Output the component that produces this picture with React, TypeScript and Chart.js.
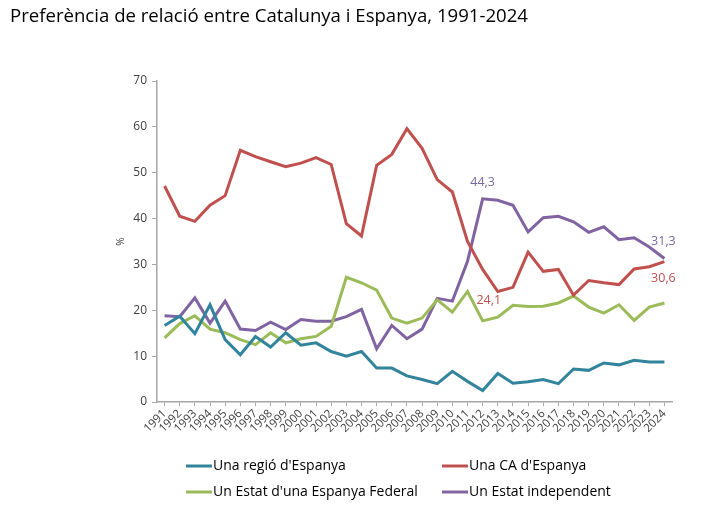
import React, { useEffect, useRef } from "react";
import { Chart, registerables } from "chart.js";

Chart.register(...registerables);

const TITLE = "Preferència de relació entre Catalunya i Espanya, 1991-2024";

const years = [
  "1991", "1992", "1993", "1994", "1995", "1996", "1997", "1998", "1999", "2000",
  "2001", "2002", "2003", "2004", "2005", "2006", "2007", "2008", "2009", "2010",
  "2011", "2012", "2013", "2014", "2015", "2016", "2017", "2018", "2019", "2020",
  "2021", "2022", "2023", "2024",
];

const regio = [
  16.7, 18.7, 14.9, 21.2, 13.6, 10.3, 14.3, 12.0, 15.1, 12.4,
  12.9, 11.0, 10.0, 11.0, 7.4, 7.4, 5.7, 4.9, 4.0, 6.7,
  4.5, 2.5, 6.2, 4.1, 4.4, 4.9, 4.0, 7.2, 6.9, 8.5,
  8.1, 9.1, 8.7, 8.7,
];

const comunitat = [
  47.1, 40.5, 39.4, 42.9, 45.0, 54.9, 53.5, 52.4, 51.3, 52.1,
  53.3, 51.8, 38.9, 36.2, 51.6, 54.0, 59.6, 55.3, 48.5, 45.8,
  35.0, 28.9, 24.1, 25.0, 32.7, 28.5, 28.9, 23.3, 26.5, 26.0,
  25.6, 29.0, 29.5, 30.6,
];

const federal = [
  14.0, 17.1, 18.8, 15.9, 15.1, 13.6, 12.5, 15.1, 12.9, 13.8,
  14.3, 16.5, 27.2, 26.0, 24.4, 18.3, 17.2, 18.3, 22.3, 19.6,
  24.1, 17.7, 18.5, 21.1, 20.8, 20.9, 21.6, 23.1, 20.7, 19.4,
  21.2, 17.8, 20.7, 21.6,
];

const independent = [
  18.8, 18.6, 22.7, 17.2, 22.0, 15.9, 15.6, 17.4, 15.8, 18.0,
  17.6, 17.6, 18.6, 20.2, 11.6, 16.7, 13.8, 15.9, 22.6, 22.0,
  30.7, 44.3, 44.0, 42.9, 37.1, 40.2, 40.5, 39.3, 37.0, 38.2,
  35.4, 35.8, 33.8, 31.3,
];

const seriesNames = [
  "Una regió d'Espanya",
  "Una CA d'Espanya",
  "Un Estat d'una Espanya Federal",
  "Un Estat independent",
];

const seriesColors = ["#31849B", "#C0504D", "#9BBB59", "#8064A2"];

// annotated points: [dataset index, year]
const annotated: [number, string][] = [
  [3, "2012"],
  [1, "2013"],
  [3, "2024"],
  [1, "2024"],
];

const Y_MIN = 0;
const Y_MAX = 70;
const Y_STEP = 10;

const FONT = "'Open Sans', 'DejaVu Sans', sans-serif";

export default function App() {
  const canvasRef = useRef<HTMLCanvasElement | null>(null);

  useEffect(() => {
    const canvas = canvasRef.current;
    if (!canvas) return;

    const overlay = {
      id: "overlay",
      afterDraw(chart: any) {
        const ctx = chart.ctx;
        ctx.save();
        // title
        ctx.fillStyle = "#000000";
        ctx.font = `18.6px ${FONT}`;
        ctx.textAlign = "left";
        ctx.textBaseline = "middle";
        ctx.fillText(TITLE, 10, 17);

        // data labels
        const offsets = [
          [0, -16],
          [-9, 9],
          [-1, -17],
          [-1, 17],
        ];
        ctx.font = `12.5px ${FONT}`;
        ctx.textAlign = "center";
        annotated.forEach(([ds, yr], i) => {
          const meta = chart.getDatasetMeta(ds);
          const idx = years.indexOf(yr);
          const pt = meta.data[idx];
          const v = chart.data.datasets[ds].data[idx] as number;
          ctx.fillStyle = ds === 3 ? "#7A68A6" : "#C0504D";
          ctx.fillText(
            v.toFixed(1).replace(".", ","),
            pt.x + offsets[i][0],
            pt.y + offsets[i][1]
          );
        });

        // legend (2 x 2)
        const cols = [186, 442];
        const rows = [466, 492];
        ctx.font = `14px ${FONT}`;
        ctx.textAlign = "left";
        chart.data.datasets.forEach((d: any, i: number) => {
          const x = cols[i % 2];
          const y = rows[Math.floor(i / 2)];
          ctx.strokeStyle = d.borderColor;
          ctx.lineWidth = 3;
          ctx.beginPath();
          ctx.moveTo(x, y);
          ctx.lineTo(x + 26, y);
          ctx.stroke();
          ctx.fillStyle = "#000000";
          ctx.fillText(d.label, x + 27, y);
        });
        ctx.restore();
      },
    };

    const chart = new Chart(canvas, {
      type: "line",
      data: {
        labels: years,
        datasets: [regio, comunitat, federal, independent].map((vals, i) => ({
          label: seriesNames[i],
          data: vals,
          borderColor: seriesColors[i],
          backgroundColor: seriesColors[i],
          borderWidth: 3,
          pointRadius: 0,
          tension: 0,
          fill: false,
        })),
      },
      options: {
        responsive: false,
        animation: false,
        layout: { padding: { left: 97, right: 37, top: 81, bottom: 75 } },
        plugins: {
          legend: { display: false },
          title: { display: false },
          tooltip: { enabled: false },
        },
        scales: {
          x: {
            type: "category",
            offset: true,
            afterFit: (s: any) => {
              s.height = 40;
            },
            grid: {
              display: true,
              offset: false,
              drawOnChartArea: false,
              drawTicks: true,
              tickLength: 4,
              color: "#A6A6A6",
            },
            border: { display: true, color: "#A6A6A6", width: 1.5 },
            ticks: {
              autoSkip: false,
              minRotation: 45,
              maxRotation: 45,
              padding: 1,
              color: "#404040",
              font: { family: FONT, size: 11.5 },
            },
          },
          y: {
            min: Y_MIN,
            max: Y_MAX,
            afterFit: (s: any) => {
              s.width = 60;
            },
            ticks: {
              stepSize: Y_STEP,
              padding: 5,
              color: "#404040",
              font: { family: FONT, size: 12 },
            },
            grid: {
              display: true,
              drawOnChartArea: false,
              drawTicks: true,
              tickLength: 5,
              color: "#A6A6A6",
            },
            border: { display: true, color: "#A6A6A6", width: 1.5 },
            title: {
              display: true,
              text: "%",
              color: "#404040",
              font: { family: FONT, size: 10 },
              padding: { top: 18, bottom: 0 },
            },
          },
        },
      },
      plugins: [overlay],
    });

    return () => chart.destroy();
  }, []);

  return (
    <div style={{ position: "absolute", left: 0, top: 0, width: 709, height: 517, background: "#ffffff" }}>
      <canvas ref={canvasRef} width={709} height={517} style={{ display: "block" }} />
    </div>
  );
}
